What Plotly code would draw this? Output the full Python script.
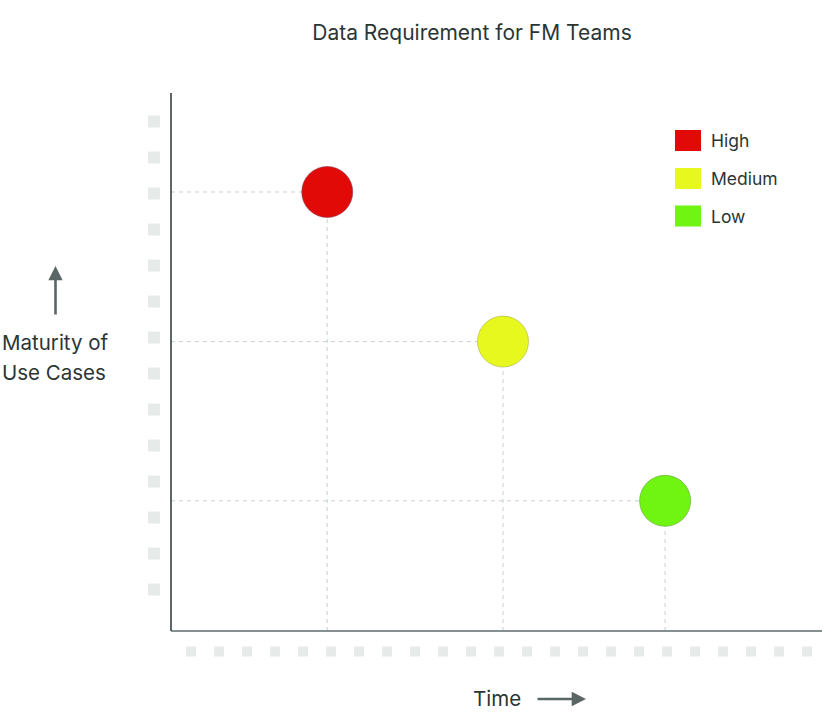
import numpy as np
import plotly.graph_objects as go

# Data (both axes run 0-100)
levels = ['High', 'Medium', 'Low']
time_pos = [24.0, 51.0, 75.9]
maturity = [81.6, 53.8, 24.2]
colors = ['#e20a07', '#e7f81e', '#70f512']
edge_colors = ['#8a3a55', '#a9b040', '#5fa030']

# decorative square "ticks" along both axes
y_marks = np.linspace(7.7, 94.7, 14)
x_marks = np.linspace(3.07, 97.7, 23)

font = 'Inter'
text_col = '#2b3535'
arrow_col = '#5a6565'
mark_col = '#e6ebe9'
drop_col = '#c5d2d2'

W, H = 823, 725
# plot box (pixels): x 0..100 -> 171..822, y 0..100 -> 631..93
sx, sy = (822 - 171) / 100, (631 - 93) / 100


def dx(px):
    return (px - 171) / sx


def dy(py):
    return (631 - py) / sy


fig = go.Figure()

# dashed drop lines
for x, y in zip(time_pos, maturity):
    fig.add_trace(go.Scatter(x=[0, x], y=[y, y], mode='lines',
                             line=dict(color=drop_col, width=1, dash='4px,4px'),
                             hoverinfo='skip', showlegend=False))
    fig.add_trace(go.Scatter(x=[x, x], y=[0, y], mode='lines',
                             line=dict(color=drop_col, width=1, dash='4px,4px'),
                             hoverinfo='skip', showlegend=False))

# square marks outside the axes
fig.add_trace(go.Scatter(x=[dx(154)] * len(y_marks), y=y_marks, mode='markers',
                         marker=dict(symbol='square', size=12, color=mark_col),
                         hoverinfo='skip', showlegend=False))
fig.add_trace(go.Scatter(x=x_marks, y=[dy(651.5)] * len(x_marks), mode='markers',
                         marker=dict(symbol='square', size=10, color=mark_col),
                         hoverinfo='skip', showlegend=False))

# bubbles
fig.add_trace(go.Scatter(x=time_pos, y=maturity, mode='markers', text=levels,
                         marker=dict(size=51, color=colors, opacity=1,
                                     line=dict(color=edge_colors, width=0.6)),
                         showlegend=False))

# axis lines
fig.add_shape(type='line', x0=0, x1=0, y0=0, y1=100,
              line=dict(color='#34403f', width=1.6))
fig.add_shape(type='line', x0=0, x1=100, y0=0, y1=0,
              line=dict(color='#5f6b6b', width=1.6))

# custom legend (squares + labels)
leg_y = [140.5, 178.5, 216]
for name, c, py in zip(levels, colors, leg_y):
    fig.add_shape(type='rect', x0=dx(675), x1=dx(701),
                  y0=dy(py + 10.5), y1=dy(py - 10.5),
                  fillcolor=c, line=dict(width=0))
    fig.add_annotation(text=name, x=dx(709), y=dy(py),
                       xanchor='left', yanchor='middle', showarrow=False,
                       font=dict(family=font, size=17.5, color=text_col))

# axis labels and arrows
fig.add_annotation(text='Maturity of', x=dx(0), y=dy(342),
                   xanchor='left', yanchor='middle', showarrow=False,
                   font=dict(family=font, size=20.5, color=text_col))
fig.add_annotation(text='Use Cases', x=dx(0), y=dy(372),
                   xanchor='left', yanchor='middle', showarrow=False,
                   font=dict(family=font, size=20.5, color=text_col))
fig.add_annotation(text='', x=dx(55.5), y=dy(266),
                   ax=0, ay=50, showarrow=True, arrowhead=2, arrowsize=1.1,
                   arrowwidth=2.6, arrowcolor=arrow_col)
fig.add_annotation(text='Time', x=dx(496.5), y=dy(698),
                   xanchor='center', yanchor='middle', showarrow=False,
                   font=dict(family=font, size=20.5, color=text_col))
fig.add_annotation(text='', x=dx(586), y=dy(699),
                   ax=-50, ay=0, showarrow=True, arrowhead=2, arrowsize=1.1,
                   arrowwidth=2.6, arrowcolor=arrow_col)

fig.update_layout(
    width=W,
    height=H,
    margin=dict(l=0, r=0, t=0, b=0),
    paper_bgcolor='white',
    plot_bgcolor='white',
    title=dict(text='Data Requirement for FM Teams', x=472 / W, y=1 - 33 / H,
               xanchor='center', yanchor='middle',
               font=dict(family=font, size=21, color=text_col)),
)

# plot area fills the whole figure; ranges chosen so 0-100 sits in the box
fig.update_xaxes(range=[dx(0), dx(W)], showgrid=False, zeroline=False,
                 showticklabels=False, ticks='', showline=False)
fig.update_yaxes(range=[dy(H), dy(0)], showgrid=False, zeroline=False,
                 showticklabels=False, ticks='', showline=False)

fig.write_html('out.html', config={'displayModeBar': False},
               post_script="document.body.style.margin = '0';")
